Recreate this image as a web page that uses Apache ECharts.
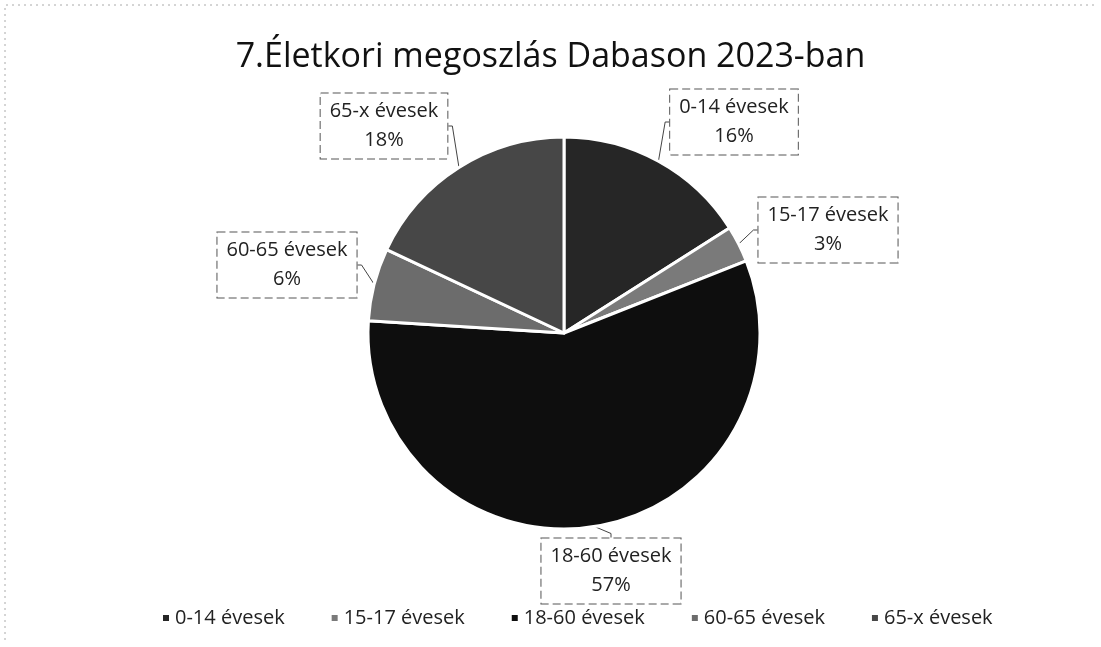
<!DOCTYPE html>
<html>
<head>
<meta charset="utf-8">
<script src="https://cdn.jsdelivr.net/npm/echarts@6/dist/echarts.min.js"></script>
<style>
  html, body { margin: 0; padding: 0; background: #fff; }
  #chart { width: 1101px; height: 647px; }
</style>
</head>
<body>
<div id="chart"></div>
<script>
var categories = ['0-14 évesek', '15-17 évesek', '18-60 évesek', '60-65 évesek', '65-x évesek'];
var shares = [16, 3, 57, 6, 18];
var colors = ['#262626', '#7a7a7a', '#0e0e0e', '#6c6c6c', '#474747'];

// centre of each callout box
var labelSpots = [[734, 122], [828, 230], [611, 571], [287, 265], [384, 126]];

var myChart = echarts.init(document.getElementById('chart'));
var option = {
    backgroundColor: '#fff',
    color: colors,
    title: {
        text: '7.Életkori megoszlás Dabason 2023-ban',
        left: 'center',
        top: 35,
        textStyle: {
            fontFamily: 'Open Sans',
            fontWeight: 'normal',
            fontSize: 34,
            color: '#111'
        }
    },
    legend: {
        top: 603,
        left: 156,
        icon: 'rect',
        itemWidth: 8,
        itemHeight: 8,
        itemGap: 45,
        data: categories,
        textStyle: {
            fontFamily: 'Open Sans',
            fontSize: 20,
            color: '#222'
        }
    },
    series: [{
        type: 'pie',
        center: [564, 333],
        radius: 196,
        startAngle: 90,
        clockwise: true,
        itemStyle: {
            borderColor: '#fff',
            borderWidth: 3
        },
        label: {
            show: true,
            formatter: '{b}\n{d}%',
            fontFamily: 'Open Sans',
            fontSize: 20,
            lineHeight: 29,
            color: '#222',
            align: 'center',
            backgroundColor: '#fff',
            borderColor: '#555',
            borderWidth: 1,
            borderType: 'dashed',
            padding: [4, 9, 3, 9]
        },
        labelLine: {
            show: true,
            length: 6,
            length2: 4,
            lineStyle: { color: '#444', width: 1 }
        },
        labelLayout: function (params) {
            var p = labelSpots[params.dataIndex];
            return { x: p[0], y: p[1], align: 'center', verticalAlign: 'middle' };
        },
        data: categories.map(function (c, i) {
            return { name: c, value: shares[i] };
        })
    }],
    graphic: [{
        type: 'polyline',
        shape: { points: [[5, 640], [5, 5], [1096, 5]] },
        style: { fill: 'none', stroke: '#aaa', lineWidth: 1, lineDash: [2, 4] },
        silent: true
    }]
};
myChart.setOption(option, true);
</script>
</body>
</html>
